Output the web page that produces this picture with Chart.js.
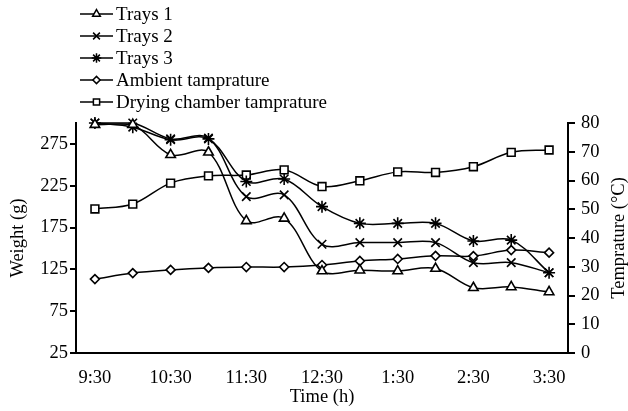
<!DOCTYPE html>
<html>
<head>
<meta charset="utf-8">
<script src="https://cdn.jsdelivr.net/npm/chart.js@4.4.1/dist/chart.umd.min.js"></script>
<style>
  body { margin: 0; background: #fff; }
  #wrap { width: 628px; height: 411px; position: relative; }
</style>
</head>
<body>
<div id="wrap"><canvas id="myChart"></canvas></div>
<script>
// time of day (half hours), only every second one is labelled
var horas = ['9:30','10:00','10:30','11:00','11:30','12:00','12:30','1:00','1:30','2:00','2:30','3:00','3:30']
// weights (g) - left axis
var trays1 = [298, 298, 262, 265, 183, 186, 123, 124, 123, 126, 103, 104, 98]
var trays2 = [300, 300, 281, 282, 212, 214, 155, 157, 157, 157, 133, 133, 121]
var trays3 = [300, 295, 280, 281, 230, 233, 200, 180, 180, 180, 159, 160, 121]
// temperatures (°C) - right axis
var ambiente = [25.7, 27.8, 28.9, 29.6, 29.9, 29.9, 30.6, 32, 32.7, 33.8, 33.7, 35.8, 34.9]
var camara = [50.1, 51.8, 59.1, 61.6, 61.9, 63.7, 57.9, 59.9, 63, 62.8, 64.8, 69.8, 70.6]
// tick labels
var pesoTicks = [25, 75, 125, 175, 225, 275]
var tempTicks = [0, 10, 20, 30, 40, 50, 60, 70, 80]

var fonte = '"Liberation Serif", "DejaVu Serif", serif'

function serie(label, data, eixo, estilo, raio) {
  return {
    label: label,
    data: data,
    yAxisID: eixo,
    borderColor: '#000',
    borderWidth: 1.5,
    backgroundColor: '#fff',
    pointStyle: estilo,
    pointRadius: raio,
    pointHoverRadius: raio,
    pointBackgroundColor: '#fff',
    pointBorderColor: '#000',
    pointBorderWidth: 1.6,
    tension: 0.35,
    clip: false
  }
}

// legend drawn by hand: one item per row, line through the marker
var legendaPlugin = {
  id: 'legenda',
  afterDraw: function(chart) {
    var ctx = chart.ctx
    ctx.save()
    chart.data.datasets.forEach(function(ds, i) {
      var y = 14 + i * 22
      ctx.strokeStyle = '#000'
      ctx.lineWidth = 1.5
      ctx.beginPath()
      ctx.moveTo(80, y)
      ctx.lineTo(113, y)
      ctx.stroke()
      ctx.fillStyle = '#fff'
      Chart.helpers.drawPoint(ctx, {
        pointStyle: ds.pointStyle,
        radius: ds.pointRadius * 0.8,
        borderWidth: 1.5,
        rotation: 0
      }, 96.5, y)
      ctx.fillStyle = '#000'
      ctx.font = '19px ' + fonte
      ctx.textBaseline = 'middle'
      ctx.textAlign = 'left'
      ctx.fillText(ds.label, 116, y + 1)
    })
    // right axis title, reading bottom to top
    ctx.translate(619, 238)
    ctx.rotate(-Math.PI / 2)
    ctx.font = '18.5px ' + fonte
    ctx.textAlign = 'center'
    ctx.textBaseline = 'middle'
    ctx.fillText('Temprature (°C)', 0, 0)
    ctx.restore()
  }
}

var ctx = document.getElementById('myChart').getContext('2d')
var myChart = new Chart(ctx, {
  type: 'line',
  data: {
    labels: horas,
    datasets: [
      serie('Trays 1', trays1, 'y', 'triangle', 5.5),
      serie('Trays 2', trays2, 'y', 'crossRot', 6),
      serie('Trays 3', trays3, 'y', 'star', 6),
      serie('Ambient tamprature', ambiente, 'y1', 'rectRot', 4.5),
      serie('Drying chamber tamprature', camara, 'y1', 'rect', 5.5)
    ]
  },
  options: {
    responsive: true,
    maintainAspectRatio: false,
    animation: false,
    layout: { padding: { top: 123, left: 0, right: 0, bottom: 0 } },
    plugins: {
      legend: { display: false },
      tooltip: { enabled: false }
    },
    scales: {
      x: {
        offset: true,
        grid: { display: false },
        border: { color: '#000', width: 2 },
        ticks: {
          autoSkip: false,
          maxRotation: 0,
          color: '#000',
          padding: 6,
          font: { family: fonte, size: 18.5 },
          callback: function(v, i) { return i % 2 == 0 ? horas[i] : '' }
        },
        title: {
          display: true,
          text: 'Time (h)',
          color: '#000',
          font: { family: fonte, size: 18.5 },
          padding: { top: 0, bottom: 3 }
        },
        afterFit: function(scale) { scale.height = 58 }
      },
      y: {
        position: 'left',
        min: 25,
        max: 300,
        afterBuildTicks: function(scale) {
          scale.ticks = pesoTicks.map(function(v) { return { value: v } })
        },
        grid: { drawOnChartArea: false, color: '#000', tickLength: 6, lineWidth: 2 },
        border: { color: '#000', width: 2 },
        ticks: { color: '#000', padding: 2, font: { family: fonte, size: 18.5 } },
        title: {
          display: true,
          text: 'Weight (g)',
          color: '#000',
          font: { family: fonte, size: 18.5 },
          padding: { top: 7 }
        },
        afterFit: function(scale) { scale.width = 76 }
      },
      y1: {
        position: 'right',
        min: 0,
        max: 80,
        afterBuildTicks: function(scale) {
          scale.ticks = tempTicks.map(function(v) { return { value: v } })
        },
        grid: { drawOnChartArea: false, color: '#000', tickLength: 7, lineWidth: 2 },
        border: { color: '#000', width: 2 },
        ticks: { color: '#000', padding: 6, font: { family: fonte, size: 18.5 } },
        afterFit: function(scale) { scale.width = 60 }
      }
    }
  },
  plugins: [legendaPlugin]
})
</script>
</body>
</html>
